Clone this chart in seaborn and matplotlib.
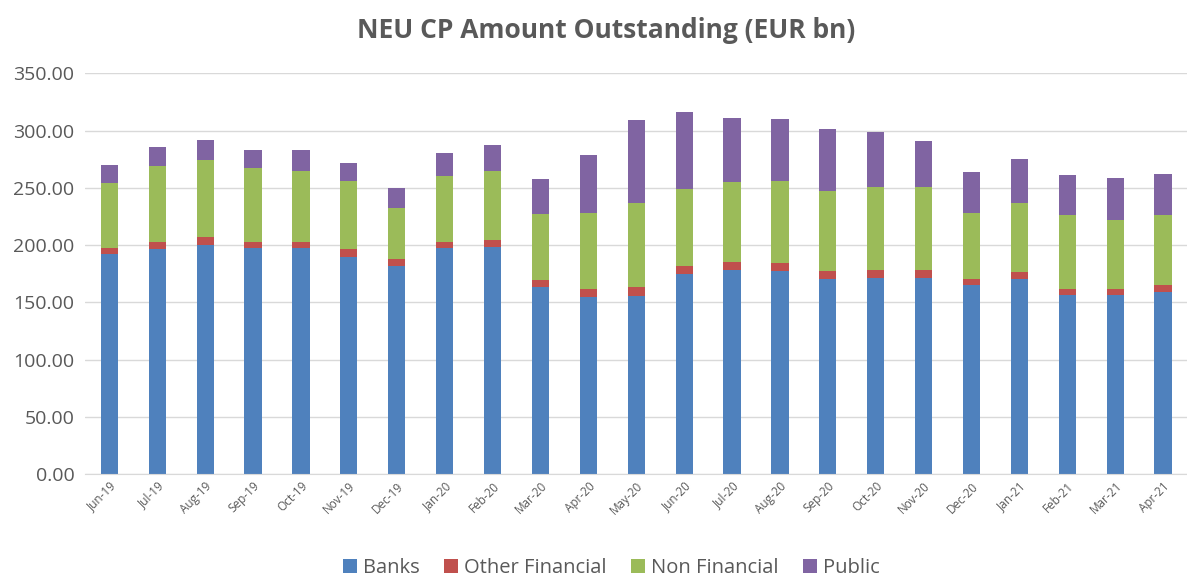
import matplotlib
matplotlib.use("Agg")
import matplotlib.pyplot as plt
import seaborn as sns
import numpy as np
import pandas as pd

months = ['Jun-19', 'Jul-19', 'Aug-19', 'Sep-19', 'Oct-19', 'Nov-19', 'Dec-19',
          'Jan-20', 'Feb-20', 'Mar-20', 'Apr-20', 'May-20', 'Jun-20', 'Jul-20',
          'Aug-20', 'Sep-20', 'Oct-20', 'Nov-20', 'Dec-20', 'Jan-21', 'Feb-21',
          'Mar-21', 'Apr-21']
banks = [191.8, 196.5, 200.2, 197.3, 197.3, 189.8, 181.4, 197.3, 198.5, 163.1, 154.7,
         155.5, 174.7, 178.5, 177.3, 170.3, 171.5, 171.5, 164.8, 170.3, 156.1, 156.1, 159.0]
other_financial = [5.2, 6.3, 6.7, 5.5, 5.5, 6.4, 6.4, 5.5, 5.5, 6.4, 7.2,
                   7.6, 6.7, 6.6, 6.7, 7.0, 7.0, 7.0, 5.8, 6.4, 5.8, 5.8, 5.8]
non_financial = [57.2, 66.5, 67.3, 64.2, 61.9, 60.0, 44.9, 57.2, 60.7, 57.4, 65.9,
                 74.0, 67.3, 70.3, 72.2, 69.7, 71.9, 71.9, 57.2, 60.4, 63.9, 60.1, 61.0]
public = [16.0, 16.2, 17.1, 16.0, 18.3, 15.1, 16.9, 20.0, 22.9, 31.1, 50.8,
          71.9, 67.3, 55.6, 54.0, 53.9, 48.5, 40.6, 36.0, 37.7, 35.7, 36.9, 36.5]

series = ['Banks', 'Other Financial', 'Non Financial', 'Public']
colors = ['#4F81BD', '#C0504D', '#9BBB59', '#8064A2']

df = pd.DataFrame({'month': months, 'Banks': banks, 'Other Financial': other_financial,
                   'Non Financial': non_financial, 'Public': public})
cum = df[series].cumsum(axis=1)
cum['month'] = months

sns.set_style("white")
plt.rcParams['font.family'] = ['Open Sans', 'DejaVu Sans']

fig = plt.figure(figsize=(11.87, 5.77), dpi=100)
ax = fig.add_axes([0.072, 0.1785, 0.928, 0.6945])

# stacked bars: draw cumulative totals top series first, lower layers on top
for name, col in reversed(list(zip(series, colors))):
    sns.barplot(data=cum, x='month', y=name, color=col, width=0.36,
                saturation=1, linewidth=0, ax=ax, label=name)

ax.set_ylim(0, 350)
ax.set_yticks(np.arange(0, 351, 50))
ax.set_yticklabels([f'{v:.2f}' for v in np.arange(0, 351, 50)], fontsize=14, color='#595959')
ax.set_xlim(-0.5, len(months) - 0.5)
ax.tick_params(axis='x', labelrotation=45, labelsize=8.5, labelcolor='#595959', length=0, pad=4)
ax.tick_params(axis='y', length=0, pad=8)
for lbl in ax.get_xticklabels():
    lbl.set_ha('right')
    lbl.set_rotation_mode('anchor')
ax.set_xlabel('')
ax.set_ylabel('')
ax.yaxis.grid(True, color='#D9D9D9', linewidth=1)
ax.set_axisbelow(True)
for s in ['top', 'right', 'left']:
    ax.spines[s].set_visible(False)
ax.spines['bottom'].set_color('#D9D9D9')

fig.text(0.511, 0.948, 'NEU CP Amount Outstanding (EUR bn)', ha='center', va='center',
         fontsize=19, fontweight='bold', color='#595959')

handles, labels = ax.get_legend_handles_labels()
order = [labels.index(s) for s in series]
ax.legend([handles[i] for i in order], series, loc='center', bbox_to_anchor=(0.515, 0.016),
          bbox_transform=fig.transFigure, ncol=4, frameon=False, fontsize=14.5,
          handlelength=0.7, handleheight=0.7, handletextpad=0.3, columnspacing=1.2,
          labelcolor='#595959')

fig.savefig('out.png', dpi=100)
